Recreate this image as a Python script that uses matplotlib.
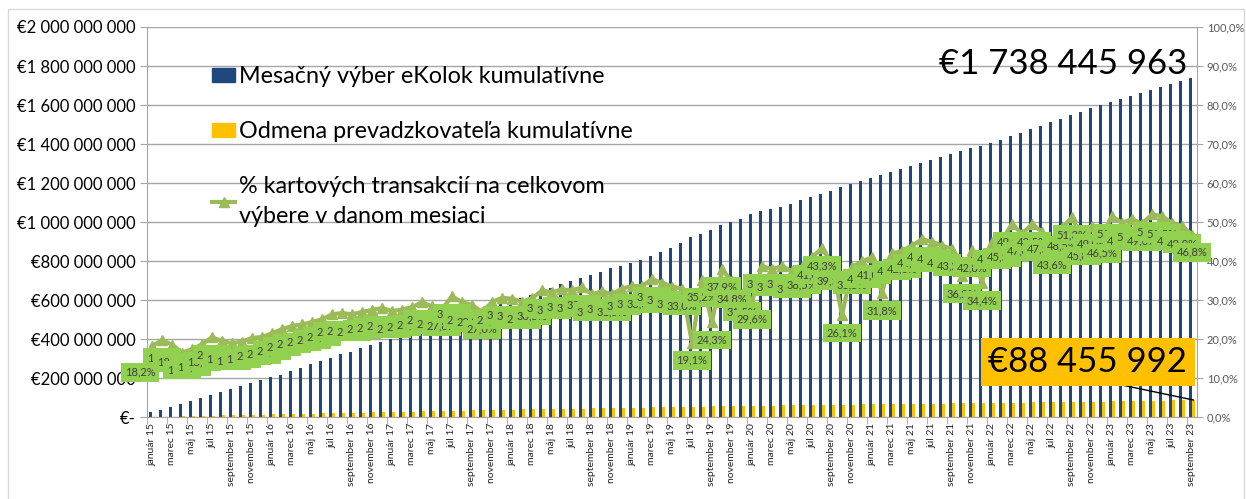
import matplotlib.pyplot as plt
import numpy as np
from matplotlib.lines import Line2D
from matplotlib.patches import Patch

plt.rcParams['font.family'] = ['Lato', 'DejaVu Sans']

mesiace = ['január', 'február', 'marec', 'apríl', 'máj', 'jún', 'júl',
           'august', 'september', 'október', 'november', 'december']
obdobia = [f'{m} {r}' for r in range(15, 24) for m in mesiace][:105]

# kumulativny vyber eKolok (mil. EUR)
vyber_mil = [27, 38, 52, 69, 83, 97, 116, 130, 145, 162, 176, 190,
             205, 219, 236, 254, 271, 288, 306, 323, 337, 353, 369, 386,
             402, 418, 434, 451, 468, 484, 500, 517, 533, 549, 566, 582,
             599, 612, 626, 648, 662, 684, 698, 712, 729, 746, 763, 777,
             793, 807, 827, 846, 867, 895, 922, 939, 962, 983, 1000, 1017,
             1040, 1057, 1069, 1080, 1095, 1112, 1129, 1146, 1160, 1181, 1198, 1212,
             1224, 1240, 1255, 1270, 1287, 1303, 1318, 1333, 1348, 1363, 1378, 1392,
             1406, 1422, 1440, 1458, 1476, 1494, 1512, 1530, 1548, 1566, 1584, 1600,
             1617, 1633, 1648, 1663, 1678, 1693, 1708, 1723, 1738.445963]

# kumulativna odmena prevadzkovatela (mil. EUR)
odmena_mil = [2.2, 3.0, 4.0, 5.2, 6.2, 7.3, 8.6, 9.5, 10.5, 11.6, 12.5, 13.7,
              14.6, 15.6, 16.7, 17.9, 18.9, 20.1, 21.2, 22.3, 23.4, 24.5, 25.6, 26.6,
              27.6, 28.6, 29.6, 30.6, 31.6, 32.6, 33.6, 34.6, 35.5, 36.4, 37.4, 38.3,
              39.2, 40.0, 40.8, 41.8, 42.6, 43.6, 44.3, 45.0, 45.8, 46.6, 47.4, 48.1,
              48.9, 49.6, 50.5, 51.4, 52.3, 53.1, 54.6, 55.3, 56.2, 57.0, 57.7, 58.4,
              59.2, 59.9, 60.4, 60.8, 61.4, 62.0, 62.7, 63.4, 63.9, 64.7, 65.4, 65.9,
              66.4, 67.0, 67.6, 68.2, 68.8, 69.4, 70.0, 70.5, 71.1, 71.6, 72.2, 72.7,
              73.3, 73.9, 74.6, 75.3, 76.0, 76.7, 77.4, 78.1, 78.8, 79.5, 80.2, 80.8,
              81.5, 82.2, 82.8, 83.6, 84.4, 85.5, 86.5, 87.5, 88.455992]

# % kartovych transakcii
karty_pct = [18.2, 19.8, 18.6, 16.6, 17.4, 18.7, 20.5, 19.5, 19.0, 19.4, 20.3, 20.6,
             21.5, 22.6, 23.4, 23.8, 24.4, 25.1, 26.4, 26.7, 26.4, 27.0, 27.5, 28.0,
             27.2, 27.6, 28.2, 29.5, 28.4, 27.8, 31.0, 29.5, 28.8, 27.0, 29.5, 30.6,
             30.4, 29.6, 30.5, 32.5, 32.0, 32.8, 32.5, 33.3, 31.5, 32.3, 31.5, 33.0,
             33.6, 33.6, 35.4, 34.5, 33.5, 33.0, 19.1, 35.2, 24.3, 37.9, 34.8, 31.5,
             29.6, 38.7, 38.0, 38.7, 37.4, 38.5, 41.0, 43.3, 39.5, 26.1, 38.5, 40.0,
             41.0, 31.8, 42.0, 42.6, 44.0, 45.6, 45.0, 44.0, 43.2, 36.2, 42.8, 34.4,
             45.0, 45.5, 49.5, 47.0, 49.5, 47.5, 43.6, 48.5, 51.3, 45.8, 49.0, 46.5,
             51.5, 49.8, 50.8, 49.6, 52.0, 51.5, 49.8, 49.0, 46.8]

vyber = np.array(vyber_mil) * 1e6
odmena = np.array(odmena_mil) * 1e6
x = np.arange(len(obdobia))

modra = '#1F497D'
zlta = '#FFC000'
zelena = '#9BBB59'
zelena_box = '#92D050'
seda = '#A6A6A6'

fig = plt.figure(figsize=(12.46, 4.99), dpi=100)
ax = fig.add_axes([147 / 1246, 1 - 417.3 / 499, 1050 / 1246, 390.3 / 499])
ax2 = ax.twinx()

w = 0.32
ax.bar(x - w / 2, vyber, w, color=modra, zorder=2)
ax.bar(x + w / 2, odmena, w, color=zlta, zorder=2)

ax.set_xlim(-0.5, len(x) - 0.5)
ax.set_ylim(0, 2e9)
ax.set_yticks(np.arange(0, 2.01e9, 2e8))
ax.set_yticklabels(['€-'] + [f'€{int(v):,}'.replace(',', ' ') for v in np.arange(2e8, 2.01e9, 2e8)])
ax.yaxis.grid(True, color=seda, lw=1)
ax.set_axisbelow(True)
ax.tick_params(axis='y', length=5, color=seda, labelsize=12, labelcolor='black', pad=3)

ax.set_xticks(x[::2])
ax.set_xticklabels(obdobia[::2], rotation=90, fontsize=7.5, color='#262626')
ax.set_xticks(np.arange(-0.5, len(x), 2), minor=True)
ax.tick_params(axis='x', which='major', length=0, pad=4)
ax.tick_params(axis='x', which='minor', length=5, color=seda)
for s in ['top', 'right']:
    ax.spines[s].set_visible(False)
ax.spines['left'].set_color(seda)
ax.spines['bottom'].set_color(seda)

# percenta
ax2.plot(x, karty_pct, color=zelena, lw=3, marker='^', ms=7, zorder=3)
ax2.set_ylim(0, 100)
ax2.set_yticks(np.arange(0, 101, 10))
ax2.set_yticklabels([f'{v:.1f}%'.replace('.', ',') for v in np.arange(0, 101, 10)])
ax2.tick_params(axis='y', length=4, color=seda, labelsize=8, labelcolor='#595959', pad=3)
for s in ['top', 'left', 'bottom']:
    ax2.spines[s].set_visible(False)
ax2.spines['right'].set_color(seda)

for i, v in enumerate(karty_pct):
    off = (-12, -26) if i == 0 else (0, -17.5)
    ax2.annotate(f'{v:.1f}%'.replace('.', ','), (x[i], v), xytext=off,
                 textcoords='offset pixels', ha='center', va='center',
                 fontsize=8, color='#404040', zorder=4,
                 bbox=dict(boxstyle='square,pad=0.35', fc=zelena_box, ec='none'))

# legenda
handles = [Patch(color=modra), Patch(color=zlta),
           Line2D([], [], color=zelena, lw=3, marker='^', ms=7)]
texty = ['Mesačný výber eKolok kumulatívne',
         'Odmena prevadzkovateľa kumulatívne',
         '% kartových transakcií na celkovom\nvýbere v danom mesiaci']
leg = ax2.legend(handles, texty, loc='upper left', bbox_to_anchor=(212 / 1246, 1 - 66 / 499),
                 bbox_transform=fig.transFigure, frameon=False, fontsize=16.8,
                 handlelength=1.0, handleheight=0.55, handletextpad=0.15,
                 labelspacing=1.46, borderpad=0, borderaxespad=0)
leg.get_texts()[2].set_linespacing(1.5)
leg.set_zorder(6)

# suhrnne hodnoty
ax2.text(0.991, 0.905, f'€{vyber[-1]:,.0f}'.replace(',', ' '), transform=ax.transAxes,
         ha='right', va='center', fontsize=25, color='black', zorder=7)
ax2.annotate(f'€{odmena[-1]:,.0f}'.replace(',', ' '), xy=(x[-1] + w / 2, odmena[-1] / 2e7),
             xytext=(0.896, 0.142), textcoords=ax.transAxes, ha='center', va='center',
             fontsize=25, color='black', zorder=7,
             bbox=dict(boxstyle='square,pad=0.22', fc=zlta, ec='none'),
             arrowprops=dict(arrowstyle='-', color='black', lw=1, relpos=(0.5, 0),
                             shrinkA=0, shrinkB=0))

# ramik grafu
fig.add_artist(plt.Rectangle((8 / 1246, -0.1), 1236 / 1246, 1.1 - 9 / 499,
                             transform=fig.transFigure, fill=False, ec='#D9D9D9', lw=1))

fig.savefig('out.png', dpi=100)
